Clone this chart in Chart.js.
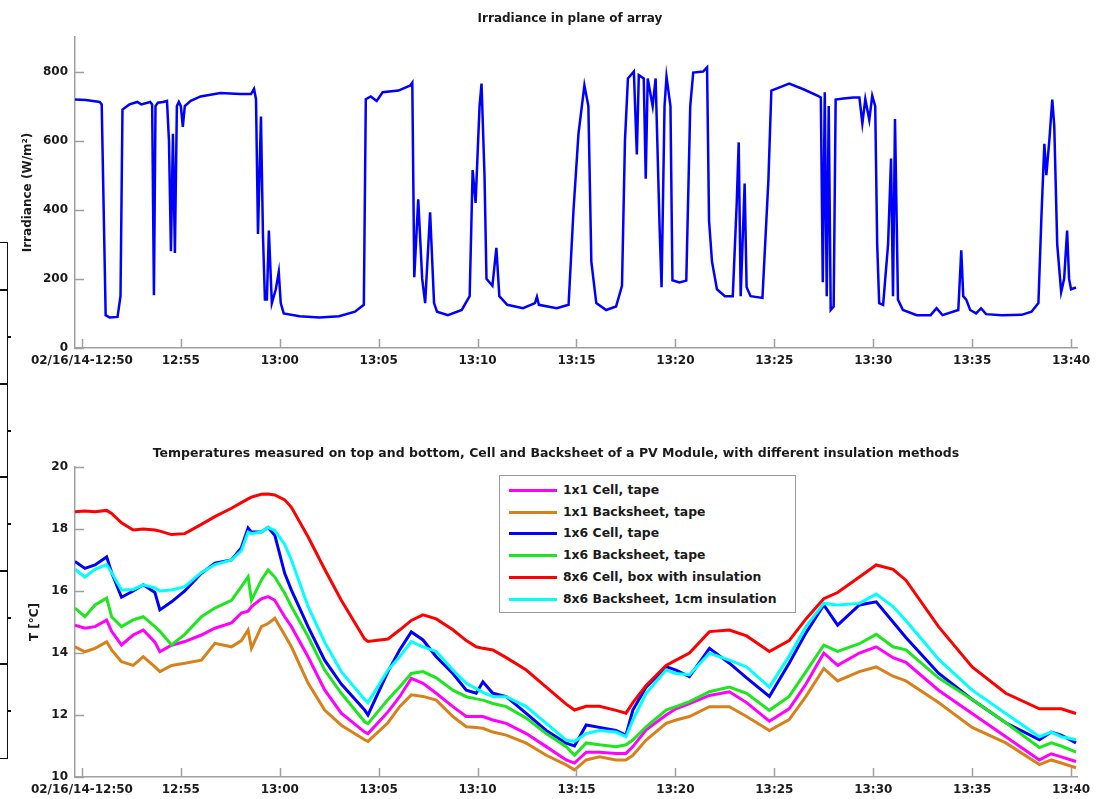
<!DOCTYPE html>
<html>
<head>
<meta charset="utf-8">
<title>Irradiance and PV module temperatures</title>
<script src="https://cdn.jsdelivr.net/npm/chart.js@4.4.1/dist/chart.umd.min.js"></script>
<style>
  body { margin: 0; background: #fff; }
  #wrap { position: relative; width: 1102px; height: 799px; overflow: hidden; font-family: "DejaVu Sans", sans-serif; }
  canvas { position: absolute; left: 0; }
  .title { position: absolute; transform: translate(-50%, -50%); white-space: nowrap; font-weight: bold; font-size: 12px; color: #1a1a1a; }
  #legend { position: absolute; left: 499px; top: 475px; width: 295px; height: 136px; border: 1px solid #9a9a9a; background: #fff; }
  .row { position: absolute; left: 9px; height: 16px; white-space: nowrap; font-weight: bold; font-size: 12.4px; color: #1a1a1a; }
  .row i { display: inline-block; width: 48px; height: 3px; vertical-align: middle; margin-right: 6px; }
  #cutoff { position: absolute; left: -2px; top: 242px; width: 8px; height: 515px; border: 1.5px solid #111; }
  .cut { position: absolute; height: 1.5px; background: #111; }
</style>
</head>
<body>
<div id="wrap">
  <div id="cutoff"></div>
  <canvas id="irr" width="1102" height="380" style="top:0"></canvas>
  <canvas id="temp" width="1102" height="379" style="top:420px"></canvas>
  <div class="title" style="left:570px;top:18px">Irradiance in plane of array</div>
  <div class="title" style="left:556px;top:452px;font-size:12.5px">Temperatures measured on top and bottom, Cell and Backsheet of a PV Module, with different insulation methods</div>
  <div id="legend"></div>
</div>
<script>
// minutes after 12:50 on 02/16/14
const timeTicks = [0, 5, 10, 15, 20, 25, 30, 35, 40, 45, 50];
const timeLabels = ["02/16/14-12:50", "12:55", "13:00", "13:05", "13:10", "13:15", "13:20", "13:25", "13:30", "13:35", "13:40"];
const irrTicks = [0, 200, 400, 600, 800];
const tempTicks = [10, 12, 14, 16, 18, 20];

const irrMinutes = [-0.35, 0.2, 0.9, 1.0, 1.1, 1.2, 1.4, 1.8, 1.95, 2.05, 2.4, 2.8, 3.0, 3.45, 3.55, 3.64, 3.72, 3.84, 4.1, 4.3, 4.4, 4.5, 4.6, 4.7, 4.8, 4.9, 5.0, 5.1, 5.2, 5.5, 6.0, 7.0, 8.0, 8.55, 8.7, 8.8, 8.9, 9.05, 9.15, 9.25, 9.35, 9.45, 9.6, 9.8, 9.95, 10.05, 10.2, 11, 12, 13, 13.8, 14.25, 14.35, 14.6, 14.9, 15.2, 16.0, 16.6, 16.7, 16.8, 17.0, 17.2, 17.35, 17.6, 17.8, 17.95, 18.5, 19.2, 19.6, 19.75, 19.9, 20.1, 20.2, 20.35, 20.45, 20.75, 20.95, 21.1, 21.5, 22.3, 22.9, 23.0, 23.1, 24.0, 24.6, 24.85, 25.1, 25.4, 25.6, 25.75, 26.0, 26.5, 27.0, 27.3, 27.45, 27.6, 27.9, 28.05, 28.15, 28.4, 28.5, 28.6, 28.85, 29.0, 29.2, 29.3, 29.45, 29.55, 29.75, 29.85, 30.2, 30.55, 30.75, 30.9, 31.4, 31.6, 31.7, 31.85, 32.1, 32.5, 32.9, 33.1, 33.2, 33.3, 33.5, 33.6, 33.8, 34.4, 34.7, 34.85, 35.3, 35.75, 36.5, 37.2, 37.35, 37.45, 37.55, 37.65, 37.75, 37.85, 38.0, 38.1, 38.5, 39.0, 39.3, 39.45, 39.6, 39.8, 39.95, 40.1, 40.2, 40.3, 40.5, 40.75, 40.9, 41.0, 41.1, 41.25, 41.5, 42.2, 42.9, 43.2, 43.5, 44.3, 44.45, 44.55, 44.7, 44.9, 45.2, 45.45, 45.7, 46.5, 47.5, 48.0, 48.35, 48.5, 48.65, 48.75, 48.9, 49.05, 49.15, 49.3, 49.5, 49.65, 49.8, 49.9, 50.0, 50.25];
const irrWm2 = [719, 718, 712, 705, 400, 95, 88, 90, 150, 690, 705, 712, 705, 712, 705, 153, 700, 710, 712, 715, 600, 280, 620, 275, 700, 712, 700, 640, 700, 715, 728, 738, 735, 735, 750, 720, 330, 670, 330, 140, 140, 340, 130, 170, 220, 130, 100, 92, 88, 92, 105, 125, 720, 728, 715, 740, 745, 760, 768, 205, 430, 200, 130, 393, 130, 105, 95, 110, 150, 515, 420, 700, 765, 500, 200, 180, 290, 150, 125, 115, 130, 148, 125, 115, 125, 400, 620, 760, 700, 250, 130, 110, 120, 180, 600, 780, 800, 560, 790, 780, 490, 780, 700, 780, 350, 176, 700, 785, 700, 196, 190, 195, 700, 797, 800, 812, 369, 250, 170, 150, 150, 420, 595, 150, 476, 176, 150, 145, 485, 745, 755, 765, 748, 730, 725, 190, 740, 150, 700, 110, 120, 719, 722, 725, 725, 650, 720, 660, 730, 700, 300, 130, 125, 300, 548, 150, 663, 140, 110, 95, 95, 115, 95, 110, 283, 150, 140, 110, 100, 115, 98, 95, 96, 105, 130, 378, 591, 500, 600, 719, 644, 300, 162, 200, 340, 200, 170, 175];

const tempMinutes = [-0.35, 0.15, 0.66, 1.25, 1.5, 2.0, 2.59, 3.1, 3.69, 3.94, 4.53, 5.2, 6.04, 6.72, 7.56, 8.06, 8.4, 8.57, 9.07, 9.41, 9.75, 10.25, 10.59, 11.43, 12.27, 13.11, 14.29, 14.46, 15.47,
    16.06, 16.65, 17.24, 17.91, 18.75, 19.43, 19.93, 20.27, 20.77, 21.45, 22.46, 23.47, 24.48, 24.9, 25.49, 26.16, 27.0, 27.5, 27.85, 28.52, 29.53, 30.03, 30.71, 31.72, 32.73,
    33.6, 34.75, 35.75, 36.6, 37.5, 38.2, 39.3, 40.15, 41.0, 41.65, 43.3, 45.0, 46.7, 48.4, 49.0, 49.5, 50.25];
const cell1x1 = [14.9, 14.8, 14.85, 15.06, 14.7, 14.26, 14.58, 14.74, 14.35, 14.04, 14.25, 14.37, 14.58, 14.8, 14.97, 15.29, 15.35, 15.5, 15.75, 15.82, 15.7, 15.17, 14.85, 13.88, 12.81, 12.06, 11.45, 11.4, 12.1,
    12.59, 13.18, 13.02, 12.7, 12.27, 11.95, 11.95, 11.95, 11.84, 11.73, 11.4, 10.98, 10.55, 10.45, 10.8, 10.8, 10.76, 10.76, 10.98, 11.52, 12.0, 12.2, 12.37, 12.63, 12.75,
    12.4, 11.8, 12.2, 13.0, 14.0, 13.6, 14.0, 14.2, 13.85, 13.7, 12.8, 12.05, 11.3, 10.55, 10.75, 10.65, 10.5];
const back1x1 = [14.2, 14.04, 14.15, 14.36, 14.1, 13.72, 13.6, 13.88, 13.55, 13.4, 13.6, 13.67, 13.77, 14.31, 14.2, 14.4, 14.74, 14.15, 14.85, 14.95, 15.12, 14.58, 14.2, 13.03, 12.16, 11.67, 11.2, 11.15, 11.75,
    12.27, 12.65, 12.6, 12.48, 11.95, 11.62, 11.6, 11.57, 11.45, 11.35, 11.09, 10.7, 10.39, 10.23, 10.55, 10.65, 10.55, 10.55, 10.7, 11.19, 11.73, 11.84, 11.95, 12.27, 12.27,
    11.95, 11.5, 11.85, 12.6, 13.5, 13.1, 13.4, 13.55, 13.25, 13.1, 12.4, 11.6, 11.1, 10.4, 10.55, 10.45, 10.3];
const cell1x6 = [16.95, 16.73, 16.84, 17.1, 16.6, 15.8, 16.0, 16.2, 15.95, 15.39, 15.65, 16.0, 16.57, 16.9, 17.0, 17.4, 18.03, 17.9, 17.9, 18.05, 17.8, 16.57, 16.03, 14.85, 13.77, 13.0, 12.16, 12.0, 13.4,
    14.1, 14.68, 14.42, 13.88, 13.34, 12.8, 12.7, 13.07, 12.7, 12.59, 12.05, 11.5, 11.09, 11.0, 11.68, 11.6, 11.5, 11.35, 12.16, 12.9, 13.56, 13.45, 13.24, 14.15, 13.67,
    13.2, 12.6, 13.67, 14.65, 15.55, 14.9, 15.55, 15.65, 15.0, 14.5, 13.35, 12.5, 11.75, 11.2, 11.45, 11.35, 11.1];
const back1x6 = [15.45, 15.17, 15.55, 15.77, 15.17, 14.85, 15.07, 15.17, 14.85, 14.7, 14.26, 14.6, 15.17, 15.45, 15.7, 16.14, 16.46, 15.7, 16.35, 16.68, 16.45, 15.93, 15.5, 14.53, 13.45, 12.7, 11.78, 11.72, 12.5,
    12.9, 13.34, 13.4, 13.2, 12.8, 12.59, 12.52, 12.48, 12.37, 12.27, 11.9, 11.4, 10.98, 10.7, 11.1, 11.04, 10.98, 11.04, 11.19, 11.62, 12.16, 12.27, 12.43, 12.75, 12.9,
    12.7, 12.15, 12.6, 13.4, 14.25, 14.05, 14.3, 14.6, 14.2, 14.1, 13.2, 12.5, 11.75, 10.95, 11.1, 11.0, 10.8];
const cell8x6 = [18.56, 18.58, 18.56, 18.6, 18.5, 18.2, 17.97, 18.0, 17.97, 17.93, 17.82, 17.85, 18.15, 18.4, 18.67, 18.85, 18.97, 19.03, 19.12, 19.13, 19.1, 18.94, 18.7, 17.75, 16.7, 15.7, 14.45, 14.37, 14.45,
    14.74, 15.05, 15.23, 15.1, 14.75, 14.4, 14.2, 14.15, 14.1, 13.85, 13.45, 12.9, 12.35, 12.16, 12.28, 12.28, 12.15, 12.06, 12.4, 12.95, 13.6, 13.77, 14.0, 14.69, 14.74,
    14.55, 14.05, 14.4, 15.1, 15.75, 15.95, 16.45, 16.84, 16.7, 16.35, 14.85, 13.55, 12.7, 12.2, 12.2, 12.2, 12.05];
const back8x6 = [16.7, 16.45, 16.7, 16.85, 16.6, 16.03, 16.05, 16.2, 16.1, 16.0, 16.03, 16.14, 16.6, 16.85, 17.0, 17.3, 17.9, 17.85, 17.9, 18.05, 17.95, 17.5, 17.0, 15.5, 14.35, 13.4, 12.5, 12.4, 13.45,
    13.88, 14.37, 14.2, 14.05, 13.45, 13.02, 12.85, 12.73, 12.6, 12.59, 12.27, 11.73, 11.19, 11.15, 11.4, 11.5, 11.45, 11.3, 11.84, 12.7, 13.45, 13.34, 13.3, 13.99, 13.77,
    13.55, 12.9, 13.9, 14.85, 15.6, 15.55, 15.6, 15.9, 15.5, 15.05, 13.8, 12.8, 12.05, 11.3, 11.45, 11.3, 11.2];

const seriesNames = ["1x1 Cell, tape", "1x1 Backsheet, tape", "1x6 Cell, tape", "1x6 Backsheet, tape", "8x6 Cell, box with insulation", "8x6 Backsheet, 1cm insulation"];
const seriesValues = [cell1x1, back1x1, cell1x6, back1x6, cell8x6, back8x6];
const seriesColors = ["#ff00ff", "#d9801a", "#0000ff", "#1ee61e", "#ff0000", "#00ffff"];

const tickFont = { family: "DejaVu Sans", size: 12, weight: "bold" };
const textColor = "#1a1a1a";
const axisColor = "#a0a0a0";

// matlab style ticks pointing into the plot
const inwardTicks = {
    id: "inwardTicks",
    afterDraw(chart) {
        const { ctx, chartArea } = chart;
        const x = chart.scales.x, y = chart.scales.y;
        ctx.save();
        ctx.strokeStyle = axisColor;
        ctx.lineWidth = 1.5;
        ctx.beginPath();
        x.ticks.forEach(t => {
            const px = Math.round(x.getPixelForValue(t.value)) + 0.5;
            ctx.moveTo(px, chartArea.bottom);
            ctx.lineTo(px, chartArea.bottom - 9);
        });
        y.ticks.forEach(t => {
            const py = Math.round(y.getPixelForValue(t.value)) + 0.5;
            ctx.moveTo(chartArea.left, py);
            ctx.lineTo(chartArea.left + 9, py);
        });
        ctx.stroke();
        ctx.restore();
    }
};

function timeAxis(height) {
    return {
        type: "linear",
        min: -0.35,
        max: 50.3,
        afterBuildTicks: s => { s.ticks = timeTicks.map(v => ({ value: v })); },
        afterFit: s => { s.height = height; s.paddingLeft = 0; s.paddingRight = 0; },
        ticks: {
            autoSkip: false, maxRotation: 0, padding: 6,
            font: tickFont, color: textColor,
            callback: (v, i) => timeLabels[i]
        },
        grid: { drawOnChartArea: false, drawTicks: false },
        border: { color: axisColor, width: 1.5 }
    };
}

function valueAxis(min, max, tickValues, title, titlePad) {
    return {
        min: min,
        max: max,
        afterBuildTicks: s => { s.ticks = tickValues.map(v => ({ value: v })); },
        afterFit: s => { s.width = 75; s.paddingTop = 0; s.paddingBottom = 0; },
        ticks: { padding: 7, font: tickFont, color: textColor },
        title: { display: true, text: title, font: tickFont, color: textColor, padding: { top: titlePad, bottom: 0 } },
        grid: { drawOnChartArea: false, drawTicks: false },
        border: { color: axisColor, width: 1.5 }
    };
}

const irrChart = new Chart(document.getElementById("irr"), {
    type: "line",
    data: {
        datasets: [{
            label: "Irradiance",
            data: irrMinutes.map((t, i) => ({ x: t, y: irrWm2[i] })),
            borderColor: "#0000ff",
            borderWidth: 2.5,
            pointRadius: 0,
            tension: 0
        }]
    },
    options: {
        responsive: false,
        animation: false,
        layout: { padding: { top: 37, right: 25, left: 0, bottom: 0 } },
        plugins: { legend: { display: false }, tooltip: { enabled: false } },
        scales: {
            x: timeAxis(32),
            y: valueAxis(0, 900, irrTicks, "Irradiance (W/m²)", 21)
        }
    },
    plugins: [inwardTicks]
});

const tempChart = new Chart(document.getElementById("temp"), {
    type: "line",
    data: {
        datasets: seriesNames.map((name, i) => ({
            label: name,
            data: tempMinutes.map((t, j) => ({ x: t, y: seriesValues[i][j] })),
            borderColor: seriesColors[i],
            borderWidth: 3,
            pointRadius: 0,
            tension: 0,
            order: seriesNames.length - i
        }))
    },
    options: {
        responsive: false,
        animation: false,
        layout: { padding: { top: 47, right: 25, left: 0, bottom: 0 } },
        plugins: { legend: { display: false }, tooltip: { enabled: false } },
        scales: {
            x: timeAxis(22),
            y: valueAxis(10, 20, tempTicks, "T [°C]", 28)
        }
    },
    plugins: [inwardTicks]
});

// legend box inside the lower plot
const legend = document.getElementById("legend");
tempChart.data.datasets.forEach((ds, i) => {
    const row = document.createElement("div");
    row.className = "row";
    row.style.top = (6 + i * 21.7) + "px";
    row.innerHTML = '<i style="background:' + ds.borderColor + '"></i>' + ds.label;
    legend.appendChild(row);
});

// edge of a neighbouring figure, cut off at the left border
const wrap = document.getElementById("wrap");
[289, 336, 383, 430, 476, 523, 570, 617, 663, 710].forEach((y, i) => {
    const d = document.createElement("div");
    d.className = "cut";
    d.style.top = y + "px";
    d.style.left = (i % 2 ? 7 : 0) + "px";
    d.style.width = (i % 2 ? 4 : 7) + "px";
    wrap.appendChild(d);
});
</script>
</body>
</html>
